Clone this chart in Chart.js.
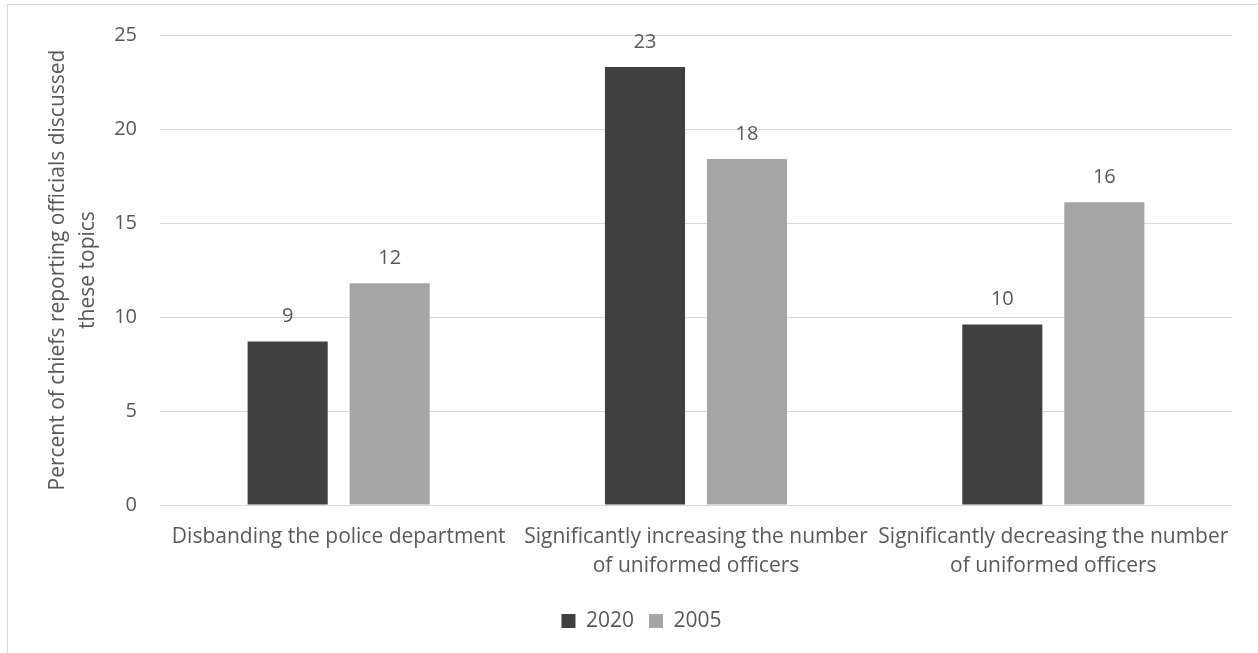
<!DOCTYPE html>
<html>
<head>
<meta charset="utf-8">
<script src="https://cdn.jsdelivr.net/npm/chart.js@4.4.1/dist/chart.umd.min.js"></script>
<style>
  html, body { margin: 0; padding: 0; background: #fff; }
  #wrap { position: relative; width: 1258px; height: 653px; overflow: hidden; }
  #frame { position: absolute; left: 7px; top: 4px; width: 1300px; height: 700px; border: 1px solid #D9D9D9; box-sizing: border-box; }
  canvas { position: absolute; left: 0; top: 0; }
</style>
</head>
<body>
<div id="wrap">
  <div id="frame"></div>
  <canvas id="c" width="1258" height="653"></canvas>
</div>
<script>
const categories = [
  ["Disbanding the police department"],
  ["Significantly increasing the number", "of uniformed officers"],
  ["Significantly decreasing the number", "of uniformed officers"]
];
const seriesNames = ["2020", "2005"];
const values2020 = [8.7, 23.3, 9.6];
const values2005 = [11.8, 18.4, 16.1];
const yTicks = [0, 5, 10, 15, 20, 25];
const yTitle = ["Percent of chiefs reporting officials discussed", "these topics"];

const FONT = "'Open Sans', 'Liberation Sans', sans-serif";
const TEXT = "#595959";
const FS = 21;   // text
const FN = 20;   // numbers

const labelPlugin = {
  id: 'valueLabels',
  afterDatasetsDraw(chart) {
    const ctx = chart.ctx;
    ctx.save();
    ctx.font = FN + "px " + FONT;
    ctx.fillStyle = TEXT;
    ctx.textAlign = 'center';
    ctx.textBaseline = 'middle';
    chart.data.datasets.forEach((ds, i) => {
      const meta = chart.getDatasetMeta(i);
      meta.data.forEach((bar, j) => {
        ctx.fillText(String(Math.round(ds.data[j])), bar.x, bar.y - 25);
      });
    });
    ctx.restore();
  }
};

new Chart(document.getElementById('c'), {
  type: 'bar',
  data: {
    labels: categories,
    datasets: [
      { label: seriesNames[0], data: values2020, backgroundColor: '#404040' },
      { label: seriesNames[1], data: values2005, backgroundColor: '#A5A5A5' }
    ]
  },
  options: {
    responsive: false,
    animation: false,
    layout: { padding: { top: 19, right: 26, bottom: 11.5, left: 51 } },
    datasets: { bar: { categoryPercentage: 0.571, barPercentage: 0.785 } },
    scales: {
      x: {
        grid: { display: false },
        border: { display: false },
        afterFit(scale) { scale.height += 5.5; },
        ticks: { color: TEXT, font: { family: FONT, size: FS, lineHeight: 1.38 }, padding: 9.5, maxRotation: 0, autoSkip: false }
      },
      y: {
        min: 0, max: 25,
        afterBuildTicks(scale) { scale.ticks = yTicks.map(v => ({ value: v })); },
        afterFit(scale) { scale.width = 109; },
        grid: { color: '#D9D9D9', lineWidth: 1, drawTicks: false },
        border: { display: false },
        ticks: { color: TEXT, font: { family: FONT, size: FN }, padding: 23 },
        title: {
          display: true, text: yTitle, color: TEXT,
          font: { family: FONT, size: FS, lineHeight: 1.45 },
          padding: { top: -8.5, bottom: 0 }
        }
      }
    },
    plugins: {
      legend: {
        position: 'bottom',
        labels: { color: TEXT, font: { family: FONT, size: FS }, boxWidth: 14, boxHeight: 14, padding: 15 }
      },
      tooltip: { enabled: false }
    }
  },
  plugins: [labelPlugin]
});
</script>
</body>
</html>
